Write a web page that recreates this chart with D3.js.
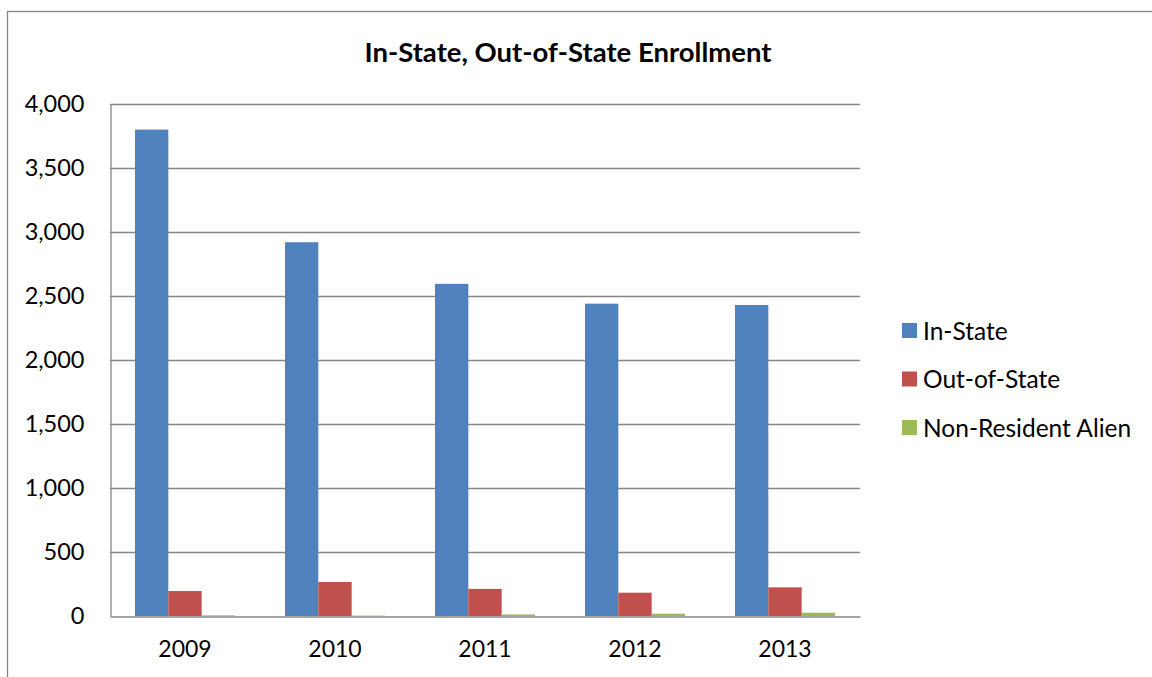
<!DOCTYPE html>
<html>
<head>
<meta charset="utf-8">
<script src="https://cdn.jsdelivr.net/npm/d3@7"></script>
<style>
  html, body { margin: 0; padding: 0; background: #fff; }
  svg text { font-family: Lato, "Open Sans", sans-serif; fill: #000; }
</style>
</head>
<body>
<script>
"use strict";

// chart values
var years = ["2009", "2010", "2011", "2012", "2013"];
var seriesNames = ["In-State", "Out-of-State", "Non-Resident Alien"];
var inState = [3800, 2920, 2595, 2440, 2430];
var outOfState = [195, 266, 212, 182, 224];
var nonResident = [5, 3, 12, 18, 26];
var yTicks = [0, 500, 1000, 1500, 2000, 2500, 3000, 3500, 4000];
var colors = ["#4f81bd", "#c0504d", "#9bbb59"];

var W = 1152, H = 677,
    m = [104, 292, 61, 110]; // top right bottom left

var svg = d3.select("body").append("svg")
    .attr("width", W)
    .attr("height", H);

// outer chart frame (runs off right and bottom edges)
svg.append("rect")
    .attr("x", 7.5).attr("y", 11.5)
    .attr("width", W).attr("height", H)
    .attr("fill", "#fff")
    .attr("stroke", "#868686")
    .attr("stroke-width", 1.3);

var x0 = d3.scaleBand()
    .domain(years)
    .range([m[3], W - m[1]])
    .paddingInner(1 / 3)
    .paddingOuter(1 / 6);

var x1 = d3.scaleBand()
    .domain(seriesNames)
    .range([0, x0.bandwidth()]);

var y = d3.scaleLinear()
    .domain([0, 4000])
    .range([H - m[2], m[0]]);

var color = d3.scaleOrdinal().domain(seriesNames).range(colors);

// gridlines
svg.append("g")
    .selectAll("line")
    .data(yTicks.slice(1))
  .enter().append("line")
    .attr("x1", m[3]).attr("x2", W - m[1])
    .attr("y1", function(d) { return y(d) + 0.5; })
    .attr("y2", function(d) { return y(d) + 0.5; })
    .attr("stroke", "#868686")
    .attr("stroke-width", 1.3);

// y axis
var yAxis = svg.append("g")
    .attr("transform", "translate(" + (m[3] + 0.5) + ",0)")
    .call(d3.axisLeft(y).tickValues(yTicks).tickSize(0).tickPadding(26)
      .tickFormat(d3.format(",")));
yAxis.select(".domain").attr("stroke", "#868686").attr("stroke-width", 1.3);
yAxis.selectAll("text").style("font-size", "23.5px");

// bars
var rows = years.map(function(yr, i) {
  return { year: yr, values: [inState[i], outOfState[i], nonResident[i]] };
});

svg.append("g")
    .selectAll("g")
    .data(rows)
  .enter().append("g")
    .attr("transform", function(d) { return "translate(" + x0(d.year) + ",0)"; })
  .selectAll("rect")
    .data(function(d) {
      return seriesNames.map(function(s, j) { return { name: s, value: d.values[j] }; });
    })
  .enter().append("rect")
    .attr("x", function(d) { return x1(d.name); })
    .attr("width", x1.bandwidth())
    .attr("y", function(d) { return y(d.value); })
    .attr("height", function(d) { return y(0) - y(d.value); })
    .attr("fill", function(d) { return color(d.name); });

// x axis
var xAxis = svg.append("g")
    .attr("transform", "translate(0," + (y(0) + 0.5) + ")")
    .call(d3.axisBottom(x0).tickSize(0).tickPadding(24).tickSizeOuter(0));
xAxis.select(".domain").attr("stroke", "#868686").attr("stroke-width", 1.3);
xAxis.selectAll("text").style("font-size", "23px");

// title
svg.append("text")
    .attr("x", 568)
    .attr("y", 62)
    .attr("text-anchor", "middle")
    .style("font-size", "27.5px")
    .style("font-weight", "bold")
    .text("In-State, Out-of-State Enrollment");

// legend
var legend = svg.append("g")
    .selectAll("g")
    .data(seriesNames)
  .enter().append("g")
    .attr("transform", function(d, i) { return "translate(902," + (323 + i * 48.5) + ")"; });

legend.append("rect")
    .attr("width", 15)
    .attr("height", 15)
    .attr("fill", function(d) { return color(d); });

legend.append("text")
    .attr("x", 21)
    .attr("y", 8)
    .attr("dy", "0.35em")
    .style("font-size", "24.5px")
    .text(function(d) { return d; });
</script>
</body>
</html>
